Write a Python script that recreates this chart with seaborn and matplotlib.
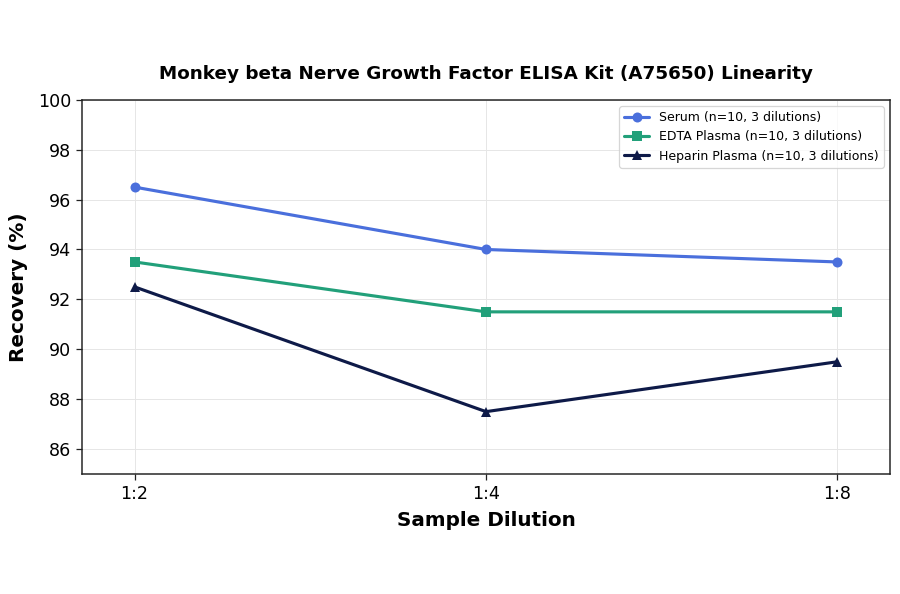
import matplotlib
matplotlib.use("Agg")
import matplotlib.pyplot as plt
import seaborn as sns
import pandas as pd

dilutions = ["1:2", "1:4", "1:8"]
serum = [96.5, 94.0, 93.5]
edta = [93.5, 91.5, 91.5]
heparin = [92.5, 87.5, 89.5]
labels = ["Serum (n=10, 3 dilutions)", "EDTA Plasma (n=10, 3 dilutions)", "Heparin Plasma (n=10, 3 dilutions)"]
colors = ["#4a6fdc", "#22a07a", "#0e1a48"]
markers = ["o", "s", "^"]

sns.set_style("whitegrid")
plt.rcParams['font.family'] = ['DejaVu Sans']
plt.rcParams['text.color'] = 'black'
plt.rcParams['axes.labelcolor'] = 'black'
plt.rcParams['xtick.color'] = 'black'
plt.rcParams['ytick.color'] = 'black'

fig = plt.figure(figsize=(10, 6.6), dpi=90)
ax = fig.add_axes([0.091, 0.202, 0.898, 0.630])

xpos = list(range(len(dilutions)))
for vals, lab, col, mk in zip([serum, edta, heparin], labels, colors, markers):
    df = pd.DataFrame({"x": xpos, "y": vals})
    sns.lineplot(data=df, x="x", y="y", ax=ax, color=col, marker=mk, markersize=8,
                 linewidth=2.5, label=lab, markeredgewidth=0)

ax.set_xticks(xpos)
ax.set_xticklabels(dilutions)
ax.set_xlim(-0.15, 2.15)
ax.set_ylim(85, 100)
ax.set_yticks([86, 88, 90, 92, 94, 96, 98, 100])
ax.tick_params(axis="both", labelsize=14, length=5, width=1, color="#222222", left=True, bottom=True)
ax.set_xlabel("Sample Dilution", fontsize=16, fontweight="bold", labelpad=6.5)
ax.set_ylabel("Recovery (%)", fontsize=16, fontweight="bold", labelpad=8)
ax.set_title("Monkey beta Nerve Growth Factor ELISA Kit (A75650) Linearity",
             fontsize=14.7, fontweight="bold", pad=17)
ax.grid(True, color="#e6e6e6", linewidth=0.8)
for s in ax.spines.values():
    s.set_color("#222222")
    s.set_linewidth(1.2)
leg = ax.legend(loc="upper right", fontsize=10, frameon=True)
leg.get_frame().set_edgecolor("#cccccc")

fig.savefig("out.png", dpi=90)
